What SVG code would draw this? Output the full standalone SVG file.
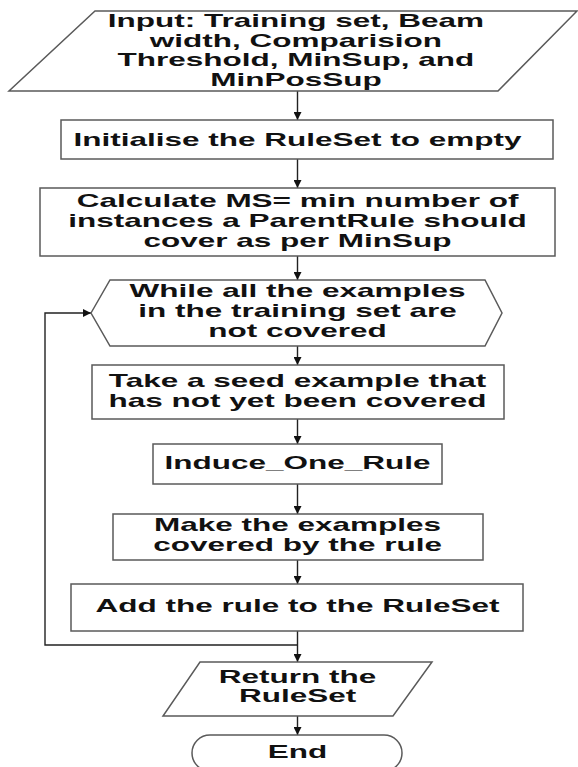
<svg xmlns="http://www.w3.org/2000/svg" width="578" height="767" viewBox="0 0 578 767">
  <style>
    .shape { fill: #ffffff; stroke: #5a5a5a; stroke-width: 1.5; }
    .link { fill: none; stroke: #222222; stroke-width: 1.4; }
    .t { font-family: "Liberation Sans", Arial, sans-serif; font-weight: bold; font-size: 17.5px; fill: #111111; text-anchor: middle; }
  </style>
  <defs>
    <marker id="arrow" viewBox="0 0 10 10" refX="10" refY="5" markerWidth="8" markerHeight="8" markerUnits="userSpaceOnUse" orient="auto">
      <path d="M0,0 L10,5 L0,10 Z" fill="#111111"/>
    </marker>
  </defs>

  <rect x="0" y="0" width="578" height="767" fill="#ffffff"/>

  <!-- connectors -->
  <g id="connectors">
    <line class="link" x1="297.5" y1="91" x2="297.5" y2="120" marker-end="url(#arrow)"/>
    <line class="link" x1="297.5" y1="159" x2="297.5" y2="188" marker-end="url(#arrow)"/>
    <line class="link" x1="297.5" y1="256" x2="297.5" y2="280" marker-end="url(#arrow)"/>
    <line class="link" x1="297.5" y1="346" x2="297.5" y2="365" marker-end="url(#arrow)"/>
    <line class="link" x1="297.5" y1="419" x2="297.5" y2="444" marker-end="url(#arrow)"/>
    <line class="link" x1="297.5" y1="484" x2="297.5" y2="514" marker-end="url(#arrow)"/>
    <line class="link" x1="297.5" y1="560" x2="297.5" y2="584" marker-end="url(#arrow)"/>
    <line class="link" x1="297.5" y1="631" x2="297.5" y2="662" marker-end="url(#arrow)"/>
    <line class="link" x1="297.5" y1="716" x2="297.5" y2="735" marker-end="url(#arrow)"/>
    <!-- loop back to the while test -->
    <path class="link" d="M297.5,645 H45 V313 H91" marker-end="url(#arrow)"/>
  </g>

  <g id="input">
    <polygon class="shape" points="95,11 577,11 498,91 9,91"/>
    <g transform="scale(1.8,1)">
      <text class="t" x="164.4" y="27">Input: Training set, Beam</text>
      <text class="t" x="164.4" y="47">width, Comparision</text>
      <text class="t" x="164.4" y="66.5">Threshold, MinSup, and</text>
      <text class="t" x="164.4" y="86">MinPosSup</text>
    </g>
  </g>

  <g id="init">
    <rect class="shape" x="61" y="120" width="492" height="39"/>
    <text class="t" transform="scale(1.8,1)" x="165.3" y="146.5">Initialise the RuleSet to empty</text>
  </g>

  <g id="calc">
    <rect class="shape" x="40" y="188" width="515" height="68"/>
    <g transform="scale(1.8,1)">
      <text class="t" x="165.3" y="207.5">Calculate MS= min number of</text>
      <text class="t" x="165.3" y="227.5">instances a ParentRule should</text>
      <text class="t" x="165.3" y="247.5">cover as per MinSup</text>
    </g>
  </g>

  <g id="while">
    <polygon class="shape" points="91,313 110,280 485,280 502,313 485,346 110,346"/>
    <g transform="scale(1.8,1)">
      <text class="t" x="165.3" y="297.5">While all the examples</text>
      <text class="t" x="165.3" y="317.5">in the training set are</text>
      <text class="t" x="165.3" y="337.5">not covered</text>
    </g>
  </g>

  <g id="seed">
    <rect class="shape" x="92" y="365" width="412" height="54"/>
    <g transform="scale(1.8,1)">
      <text class="t" x="165.3" y="387">Take a seed example that</text>
      <text class="t" x="165.3" y="407">has not yet been covered</text>
    </g>
  </g>

  <g id="induce">
    <rect class="shape" x="153" y="444" width="289" height="40"/>
    <text class="t" transform="scale(1.8,1)" x="165.3" y="469">Induce_One_Rule</text>
  </g>

  <g id="mark">
    <rect class="shape" x="113" y="514" width="370" height="46"/>
    <g transform="scale(1.8,1)">
      <text class="t" x="165.3" y="531.5">Make the examples</text>
      <text class="t" x="165.3" y="551">covered by the rule</text>
    </g>
  </g>

  <g id="add">
    <rect class="shape" x="71" y="584" width="452" height="47"/>
    <text class="t" transform="scale(1.8,1)" x="165.3" y="612">Add the rule to the RuleSet</text>
  </g>

  <g id="return">
    <polygon class="shape" points="200,662 432,662 393,716 163,716"/>
    <g transform="scale(1.8,1)">
      <text class="t" x="165.3" y="683">Return the</text>
      <text class="t" x="165.3" y="702.5">RuleSet</text>
    </g>
  </g>

  <g id="end">
    <rect class="shape" x="192" y="735" width="210" height="36" rx="18" ry="18"/>
    <text class="t" transform="scale(1.8,1)" x="165.3" y="758">End</text>
  </g>
</svg>
